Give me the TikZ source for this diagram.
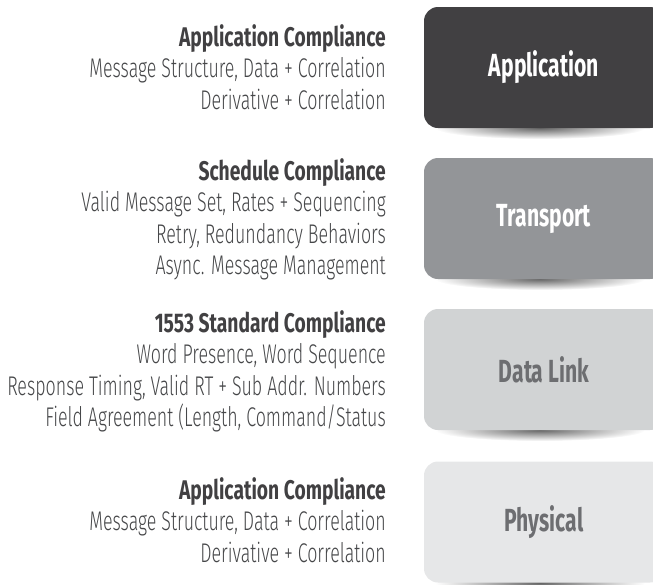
\documentclass[tikz,border=0pt]{standalone}
\usepackage{fontspec}
\setmainfont{Fira Sans Light}[FakeStretch=0.66]
\newfontfamily\headfont{Fira Sans}[FakeStretch=0.713]
\newfontfamily\boxfont{Fira Sans}[FakeStretch=0.66]
\usepackage{tikz}
\usetikzlibrary{positioning}
\definecolor{txtdark}{RGB}{65,64,66}
\definecolor{txtbody}{RGB}{70,71,73}
\definecolor{appfill}{RGB}{65,64,66}
\definecolor{trfill}{RGB}{147,149,152}
\definecolor{dlfill}{RGB}{209,211,212}
\definecolor{phyfill}{RGB}{230,231,232}
\definecolor{boxtxt}{RGB}{109,110,113}
\newcommand*{\notehead}[1]{\textcolor{txtdark}{\headfont\bfseries #1}}
\tikzstyle{layerbox}=[rectangle,rounded corners=14pt,minimum width=240pt,minimum height=121pt,inner sep=0pt,font=\boxfont\bfseries\fontsize{32}{36}\selectfont]
\tikzstyle{note}=[anchor=north east,align=right,inner sep=0pt,text=txtbody,font=\fontsize{27}{31.5}\selectfont]
\tikzstyle{shadow}=[inner color=black!60,outer color=white]

\begin{document}
\begin{tikzpicture}[x=1pt,y=-1pt]
            \useasboundingbox (0,0) rectangle (653,584);
            \clip (0,0) rectangle (653,584);
            \def\bx{544}
            % shadows under the layers
            \shade[shadow] (\bx-4,128) ellipse (105 and 11);
            \shade[shadow] (\bx-4,279) ellipse (105 and 11);
            \shade[shadow] (\bx-4,430) ellipse (105 and 11);
            \shade[shadow] (\bx-4,583) ellipse (105 and 11);
            % layers
            \node[layerbox,fill=appfill,text=white] (app) at (\bx,67.5) {Application};
            \node[layerbox,fill=trfill,text=white] (transport) at (\bx,218.5) {Transport};
            \node[layerbox,fill=dlfill,text=boxtxt] (datalink) at (\bx,369.5) {Data Link};
            \node[layerbox,fill=phyfill,text=boxtxt] (physical) at (\bx,522) {Physical};
            % compliance notes
            \node[note] (appnote) at (386,24) {\notehead{Application Compliance}\\Message Structure, Data + Correlation\\Derivative + Correlation};
            \node[note] (schednote) at (386,158) {\notehead{Schedule Compliance}\\Valid Message Set, Rates + Sequencing\\Retry, Redundancy Behaviors\\Async. Message Management};
            \node[note] (stdnote) at (386,310) {\notehead{1553 Standard Compliance}\\Word Presence, Word Sequence\\Response Timing, Valid RT + Sub Addr. Numbers\\Field Agreement (Length, Command/Status};
            \node[note] (phynote) at (386,477) {\notehead{Application Compliance}\\Message Structure, Data + Correlation\\Derivative + Correlation};
        \end{tikzpicture}
\end{document}
